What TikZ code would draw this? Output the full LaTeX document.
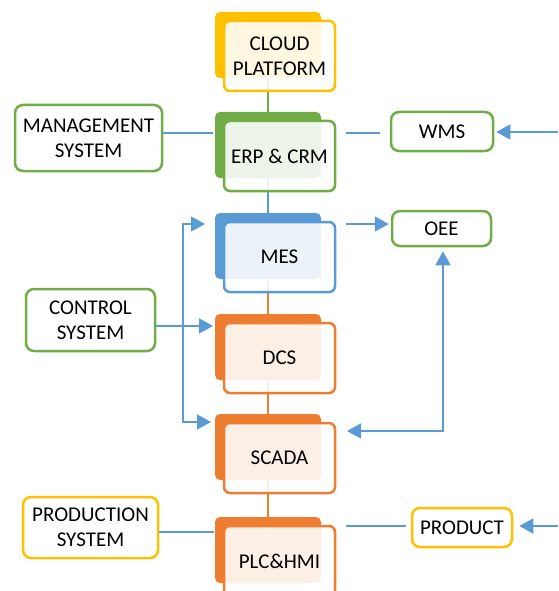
\documentclass[tikz,border=0pt]{standalone}
\usepackage{fontspec}
\setmainfont{Carlito}
\usetikzlibrary{arrows.meta,backgrounds}
\definecolor{cgold}{HTML}{FFC000}
\definecolor{cgreen}{HTML}{70AD47}
\definecolor{cblue}{HTML}{5B9BD5}
\definecolor{corange}{HTML}{ED7D31}
\definecolor{linkblue}{HTML}{5B9BD5}
% one layer of the automation pyramid: solid back card and a lighter front card
\newcommand\stackblock[4]{%
  \node[backbox, fill=#2] (#1B) at (268,#3+33) {};
  \node[frontbox, draw=#2] (#1F) at (279.5,#3+44) {#4};}
\begin{document}
\begin{tikzpicture}[x=1pt,y=-1pt,
  every node/.style={font=\fontsize{21}{25}\selectfont, align=center, text=black},
  backbox/.style={rectangle, rounded corners=5pt, minimum width=106pt, minimum height=66pt, inner sep=0pt},
  frontbox/.style={rectangle, rounded corners=6pt, minimum width=111pt, minimum height=70pt, inner sep=0pt,
    line width=2.5pt, fill=white, fill opacity=0.88, text opacity=1},
  sidebox/.style={rectangle, rounded corners=8pt, line width=2.5pt, fill=white, inner sep=0pt},
  link/.style={draw=linkblue, line width=1.5pt},
  tip/.style={-{Triangle[length=14pt,width=15pt]}},
  tips/.style={{Triangle[length=14pt,width=15pt]}-{Triangle[length=14pt,width=15pt]}},
  stem/.style={line width=2.5pt}]
\useasboundingbox (0,0) rectangle (558,591);
\clip (0,0) rectangle (558,591);

% central stack
\stackblock{cloud}{cgold}{12}{CLOUD\\PLATFORM}
\stackblock{erp}{cgreen}{112}{ERP \& CRM}
\stackblock{mes}{cblue}{213}{MES}
\stackblock{dcs}{corange}{314}{DCS}
\stackblock{scada}{corange}{414}{SCADA}
\stackblock{plc}{corange}{517}{PLC\&HMI}

% side boxes
\node[sidebox, draw=cgreen, minimum width=147pt, minimum height=66pt] (mgmt) at (88.5,138) {MANAGEMENT\\SYSTEM};
\node[sidebox, draw=cgreen, minimum width=129pt, minimum height=62pt] (ctrl) at (90.5,320) {CONTROL\\SYSTEM};
\node[sidebox, draw=cgold, minimum width=135pt, minimum height=61pt] (prodsys) at (90.5,527.5) {PRODUCTION\\SYSTEM};
\node[sidebox, draw=cgreen, minimum width=102pt, minimum height=39pt] (wms) at (442,131.5) {WMS};
\node[sidebox, draw=cgreen, minimum width=99pt, minimum height=35pt] (oee) at (441.5,228.5) {OEE};
\node[sidebox, draw=cgold, minimum width=100pt, minimum height=39pt] (product) at (462,527.5) {PRODUCT};

% connector end points
\coordinate (erpL) at (213,133);
\coordinate (erpR) at (346,133);
\coordinate (wmsIn) at (558,132);
\coordinate (mesR) at (346,224);
\coordinate (mesL) at (205,224);
\coordinate (busTop) at (183,224);
\coordinate (busBot) at (183,422);
\coordinate (scadaL) at (211,422);
\coordinate (dcsL) at (213,326);
\coordinate (scadaR) at (347,431);
\coordinate (oeeBus) at (443,431);
\coordinate (plcL) at (214,532);
\coordinate (plcR) at (346,526);
\coordinate (productIn) at (558,526);

\begin{scope}[on background layer]
  % vertical links through the stack
  \draw[stem, cgreen] (cloudB) -- (erpB);
  \draw[stem, cblue] (erpB) -- (mesB);
  \draw[stem, corange] (mesB) -- (dcsB);
  \draw[stem, corange] (dcsB) -- (scadaB);
  \draw[stem, corange] (scadaB) -- (plcB);
\end{scope}

% side links
\draw[link] (mgmt.east |- erpL) -- (erpL);
\draw[link] (erpR) -- ([xshift=-10pt]wms.west |- erpR);
\draw[link, tip] (wmsIn) -- ([xshift=2pt]wms.east |- wmsIn);
\draw[link, tip] (mesR) -- ([xshift=-2pt]oee.west |- mesR);
\draw[link, tips] (mesL) -- (busTop) -- (busBot) -- (scadaL);
\draw[link, tip] (ctrl.east |- dcsL) -- (dcsL);
\draw[link, tips] (scadaR) -- (oeeBus) -- ([yshift=-4pt]oeeBus |- oee.south);
\draw[link] (prodsys.east |- plcL) -- (plcL);
\draw[link] (plcR) -- ([xshift=-5pt]product.west |- plcR);
\draw[link, tip] (productIn) -- ([xshift=6pt]product.east |- productIn);
\end{tikzpicture}
\end{document}
